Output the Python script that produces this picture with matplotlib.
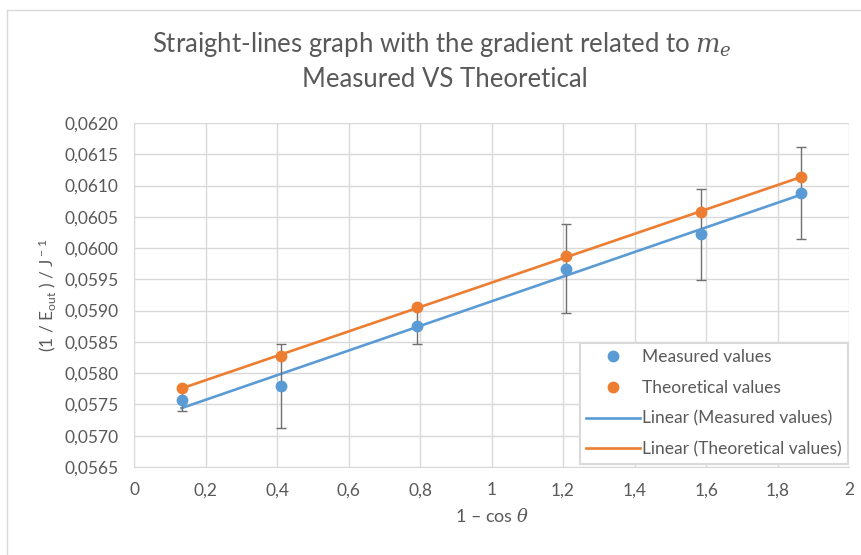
import matplotlib
matplotlib.use("Agg")
import matplotlib.pyplot as plt
from matplotlib.ticker import FuncFormatter, MultipleLocator
from matplotlib.lines import Line2D
import numpy as np

# values
one_minus_cos = [0.133, 0.410, 0.791, 1.208, 1.585, 1.866]
measured = [0.05757, 0.05779, 0.05875, 0.05967, 0.06022, 0.06088]
theoretical = [0.05776, 0.05828, 0.05905, 0.05987, 0.06057, 0.06114]
measured_err = [0.00018, 0.00067, 0.00029, 0.00071, 0.00073, 0.00074]

BLUE = "#5B9BD5"
ORANGE = "#ED7D31"
GRID = "#D9D9D9"
TEXT = "#595959"

plt.rcParams['font.family'] = ['Lato', 'DejaVu Sans']
plt.rcParams['mathtext.fontset'] = 'custom'
plt.rcParams['mathtext.rm'] = 'Lato'
plt.rcParams['mathtext.it'] = 'DejaVu Serif:italic'

fig = plt.figure(figsize=(8.62, 5.55), dpi=100)
ax = fig.add_axes([0.1555, 0.1586, 0.8295, 0.6198])

x = np.array(one_minus_cos)
for y, c in [(measured, BLUE), (theoretical, ORANGE)]:
    k, b = np.polyfit(x, y, 1)
    ax.plot([x[0], x[-1]], [k * x[0] + b, k * x[-1] + b], color=c, lw=1.9, zorder=2)

ax.errorbar(x, measured, yerr=measured_err, fmt='none', ecolor='#707070',
            elinewidth=1, capsize=3.5, capthick=1, zorder=3)
ax.plot(x, measured, 'o', color=BLUE, ms=7.5, zorder=4)
ax.plot(x, theoretical, 'o', color=ORANGE, ms=7.5, zorder=4)

ax.set_xlim(0, 2)
ax.set_ylim(0.0565, 0.0620)
ax.xaxis.set_major_locator(MultipleLocator(0.2))
ax.yaxis.set_major_locator(MultipleLocator(0.0005))
ax.xaxis.set_major_formatter(FuncFormatter(lambda v, p: f"{v:.1f}".rstrip('0').rstrip('.').replace('.', ',')))
ax.yaxis.set_major_formatter(FuncFormatter(lambda v, p: f"{v:.4f}".replace('.', ',')))
ax.tick_params(length=0, labelsize=12.5, colors=TEXT)
ax.tick_params(axis='x', pad=11)
ax.tick_params(axis='y', pad=11)
ax.grid(True, color=GRID, lw=1)
ax.set_axisbelow(True)
for s in ax.spines.values():
    s.set_visible(False)
ax.spines['left'].set_visible(True)
ax.spines['bottom'].set_visible(True)
ax.spines['left'].set_color(GRID)
ax.spines['bottom'].set_color(GRID)

ax.set_xlabel(r"1 – cos $\theta$", fontsize=13, color=TEXT, labelpad=6)
ax.set_ylabel(r"(1 / E$_{\rm out}$ ) / J$^{\rm -1}$", fontsize=12.5, color=TEXT, labelpad=5)

fig.text(0.513, 0.920, r"Straight-lines graph with the gradient related to $m_e$",
         ha='center', va='center', fontsize=18.5, color=TEXT)
fig.text(0.516, 0.856, "Measured VS Theoretical",
         ha='center', va='center', fontsize=18.5, color=TEXT)

handles = [
    Line2D([], [], ls='none', marker='o', color=BLUE, ms=7.5),
    Line2D([], [], ls='none', marker='o', color=ORANGE, ms=7.5),
    Line2D([], [], color=BLUE, lw=1.9),
    Line2D([], [], color=ORANGE, lw=1.9),
]
labels = ["Measured values", "Theoretical values",
          "Linear (Measured values)", "Linear (Theoretical values)"]
leg = fig.legend(handles, labels, loc='lower right',
                 bbox_to_anchor=(848 / 862, 1 - 464 / 555), fontsize=12.5,
                 frameon=True, fancybox=False, edgecolor=GRID, framealpha=1,
                 handlelength=3.1, handletextpad=0.1, labelspacing=0.85,
                 borderpad=0.37, borderaxespad=0, labelcolor=TEXT)
leg.get_frame().set_linewidth(1.5)

fig.add_artist(Line2D([0.008, 0.008], [0, 0.982], color=GRID, lw=1, transform=fig.transFigure))
fig.add_artist(Line2D([0.008, 1], [0.982, 0.982], color=GRID, lw=1, transform=fig.transFigure))

fig.savefig("out.png", dpi=100)
